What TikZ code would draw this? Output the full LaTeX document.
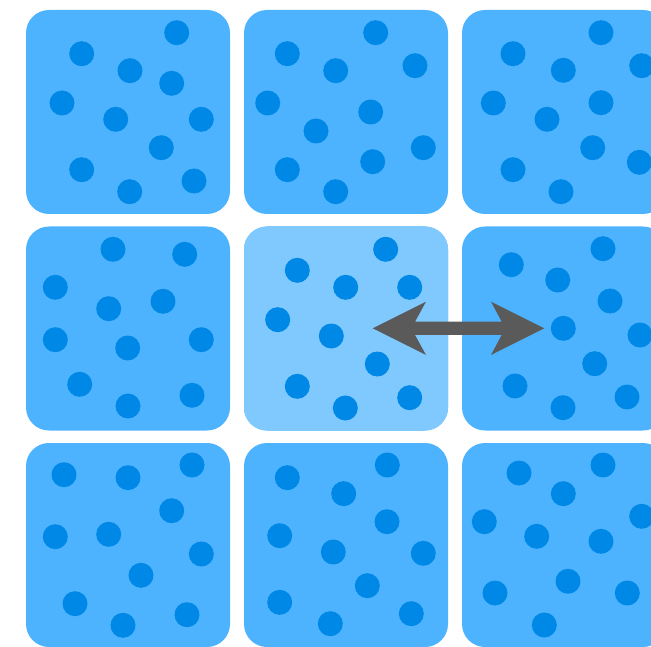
\documentclass[tikz,border=0pt]{standalone}
\definecolor{boxc}{HTML}{4DB3FF}
\definecolor{boxhi}{HTML}{80C9FF}
\definecolor{dotc}{HTML}{0088E6}
\definecolor{arrc}{HTML}{5A5A5A}
\tikzset{
  cellbox/.style={fill=boxc, rounded corners=23pt, draw=none},
  cellhi/.style={fill=boxhi, rounded corners=23pt, draw=none},
  dotmark/.style={fill=dotc, draw=none},
  arrowshape/.style={fill=arrc, draw=none}
}
\begin{document}
\begin{tikzpicture}[x=1pt,y=-1pt]
\useasboundingbox (0,0) rectangle (651,647);
% boxes
\foreach \x in {26,244,462}{
  \foreach \y in {10,226.5,443}{
    \fill[cellbox] (\x,\y) rectangle ++(204,204);
  }
}
\fill[cellhi] (244,226.5) rectangle ++(204,204);
% dots
\foreach \p in {
 (176.7,32.7),(81.7,53.7),(130,70.7),(171.7,83.3),(62,103),(115.7,119.3),(201.3,119.3),(161.3,147.7),(81.7,169.7),(129.7,191.7),(194,181),
 (375.7,32.7),(287.3,53.7),(335.7,70.7),(415,65.7),(267.7,103),(370.7,112),(316,131),(423.3,147.7),(287.3,169.7),(372.7,161.7),(335.7,191.7),
 (601,32.7),(513,53.7),(563.3,70.3),(641.7,65.7),(493.3,103),(601,102.7),(547,119.3),(592.7,147.7),(639.3,162.3),(513,169.7),(561,191.7),
 (113,249.3),(184.7,254.3),(55.3,287.3),(163,301.3),(108.7,308.7),(55.3,339.7),(127.7,348),(201.3,339.7),(79.7,384.3),(128,406),(192,395.3),
 (385.7,249.3),(297.3,270.3),(345.7,287.3),(409.7,287.3),(277.7,319.7),(331.3,336),(377.3,364),(297.3,386.3),(345.3,408),(409.7,397.7),
 (603,248.7),(511.3,264.7),(557.7,280),(610,301),(563.3,328.3),(640,335),(594.7,363.7),(515,386),(563,407.7),(627,397),
 (64,474.7),(128,477.7),(192,465),(171.7,510.7),(55.3,536.7),(108.7,534.3),(201.3,554),(141,575.3),(75,603.7),(123,625.3),(187,614.7),
 (387.3,465),(287.3,477.7),(343.7,493.7),(387,521.7),(279.7,535.7),(333.3,552),(423.3,553.3),(367.3,585.7),(279.7,602.3),(330.3,623.7),(411.3,613.7),
 (603,465),(519,473),(563.3,493.7),(484.3,521.7),(641.7,516.3),(536.7,536.3),(601,541.3),(568,581.3),(495,593),(627.3,593),(544.3,625)
}{
  \fill[dotmark] \p circle (12.5);
}
% double arrow
\coordinate (ltip) at (372.7,328.3);
\coordinate (rtip) at (544.3,328.3);
\fill[arrowshape] (ltip) -- (426,301.7) -- (415,321.7) -- (501.7,321.7) -- (491,301.7)
  -- (rtip) -- (491,355) -- (501.7,334.9) -- (415,334.9) -- (426,355) -- cycle;
\end{tikzpicture}
\end{document}
